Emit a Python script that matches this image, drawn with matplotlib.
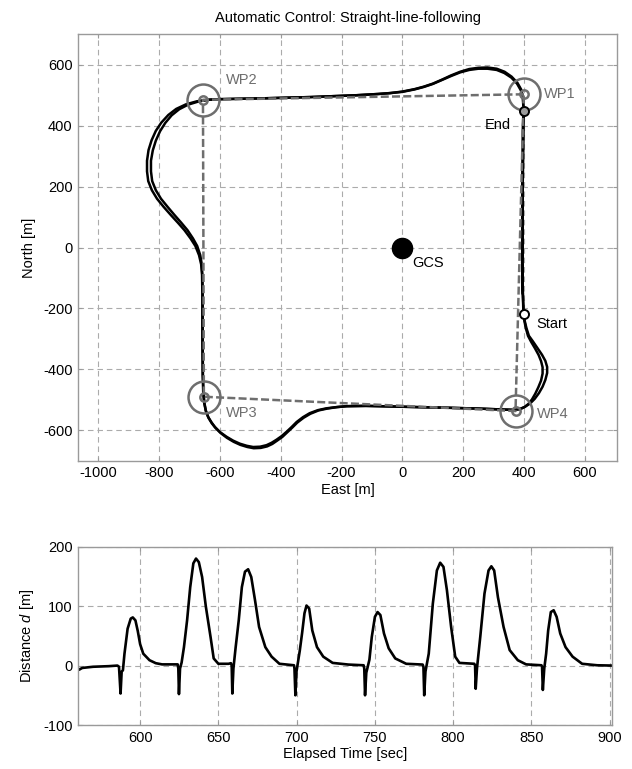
import matplotlib
matplotlib.use("Agg")
import matplotlib.pyplot as plt
import numpy as np

plt.rcParams['font.family'] = ['Liberation Sans', 'DejaVu Sans']
plt.rcParams['mathtext.fontset'] = 'custom'
plt.rcParams['mathtext.rm'] = 'Liberation Sans'
plt.rcParams['mathtext.it'] = 'Liberation Sans:italic'
plt.rcParams['axes.unicode_minus'] = False

# waypoints (east, north) [m]
wp_names = ['WP1', 'WP2', 'WP3', 'WP4']
wp_east = [399, -656, -653, 372]
wp_north = [503, 485, -490, -537]

# flown track, lap 1 (starting at "Start")
lap1_east = [399, 396, 394, 395, 396, 397, 398,
             396, 390, 377, 358, 335, 310, 280, 250, 220, 190, 160, 130, 100, 70, 40, 0, -40, -80,
             -150, -300, -450, -600,
             -640, -676, -712, -744, -770, -793, -811, -825, -835, -840, -840, -836, -824, -807,
             -785, -762, -739, -717, -697, -681, -669, -662, -659, -658, -658, -657, -655,
             -652, -647, -639, -628, -617, -600, -579, -557, -535, -512, -491, -468, -447, -430,
             -414, -397, -381, -364, -348, -327, -305, -278, -250, -217, -184, -120, -74, 50, 145,
             255, 331, 365,
             387, 403, 420, 435, 449, 461, 470, 476, 476, 470, 459, 444, 429, 416, 408, 402, 399]
lap1_north = [-218, -150, -50, 100, 250, 400, 460,
              490, 515, 538, 558, 573, 583, 587, 587, 583, 575, 563, 550, 537, 527, 519, 511, 507, 504,
              500, 494, 490, 487,
              485, 480, 470, 455, 435, 410, 383, 352, 320, 285, 250, 218, 188, 160,
              133, 107, 82, 57, 30, 5, -25, -55, -90, -150, -300, -420, -480,
              -510, -535, -556, -574, -589, -606, -621, -634, -644, -651, -655, -654, -649, -641,
              -631, -619, -605, -589, -573, -557, -544, -534, -528, -524, -521, -520, -521, -524, -526,
              -529, -532, -533,
              -530, -523, -512, -497, -478, -457, -435, -412, -392, -372, -352, -330, -308, -290, -265, -240, -218]

# lap 2 (ending at "End")
lap2_east = [396, 394, 395, 396, 397, 398,
             397, 391, 378, 359, 336, 310, 280, 250, 220, 190, 160, 130, 100, 70, 40, 0, -40, -80,
             -150, -300, -450, -600,
             -640, -672, -705, -734, -759, -780, -797, -811, -821, -827, -827, -823, -811, -794,
             -772, -750, -728, -707, -689, -675, -665, -660, -658, -657, -657, -656, -654,
             -651, -646, -638, -627, -615, -598, -577, -555, -533, -510, -489, -466, -445, -428,
             -412, -395, -379, -362, -346, -325, -303, -276, -248, -215, -182, -120, -74, 50, 145,
             255, 331, 365,
             385, 400, 414, 426, 437, 447, 456, 461, 461, 456, 448, 436, 423, 413, 406, 401, 398,
             396, 394, 395, 396, 397, 399]
lap2_north = [-150, -50, 100, 250, 400, 460,
              492, 518, 541, 561, 577, 587, 591, 590, 586, 577, 565, 551, 538, 528, 520, 512, 507, 504,
              500, 494, 490, 487,
              485, 479, 469, 454, 434, 409, 382, 351, 319, 285, 250, 218, 188, 160,
              133, 107, 82, 57, 30, 5, -25, -55, -90, -150, -300, -420, -480,
              -512, -538, -559, -577, -592, -609, -625, -638, -648, -655, -659, -658, -653, -645,
              -634, -622, -607, -591, -575, -559, -546, -535, -529, -524, -521, -520, -521, -524, -526,
              -529, -532, -533,
              -531, -525, -514, -499, -480, -459, -437, -414, -393, -373, -353, -331, -309, -290, -265, -240, -218,
              -150, -50, 100, 250, 400, 449]

start_pt = (399, -218)
end_pt = (399, 449)

# cross-track distance vs time
time_s = [559.5, 561, 563, 570, 580, 585.5, 586.5, 587.5, 588.2, 589, 590, 592, 594, 595.3, 597, 598.5,
          600, 602, 606, 610, 614, 624,
          624.4, 624.8, 625.5, 626.5, 628, 630, 632, 634, 635.7, 637.5, 639.6, 642, 645, 647, 650, 656.5,
          658, 658.5, 658.9, 659.6, 661, 663, 665, 667, 669, 671, 673.4, 676, 680, 684, 689, 698.3,
          698.6, 699.2, 699.9, 702, 703.5, 705, 706.3, 708, 710, 713, 717, 723, 733, 742.8,
          743.2, 743.7, 744.5, 746.5, 748, 750, 751.7, 753.5, 755.8, 758.8, 763, 770, 780.5,
          781, 781.5, 782.3, 784.4, 787, 789.6, 791.7, 793.8, 796, 798.7, 801.3, 804, 813.5,
          814, 814.4, 815.2, 817.3, 820, 822.6, 824.4, 826.2, 828.6, 832.2, 836.1, 841.3, 846.6, 856.4,
          856.8, 857.3, 858.2, 859.4, 860.7, 862.4, 864.2, 866.1, 868.4, 871.8, 876.3, 882.4, 892, 901.5]
dist_m = [-2, -7, -4, -2, -1, 0, -2, -47, -10, -8, 20, 62, 79, 81, 76, 58,
          36, 20, 9, 4, 2, 2,
          -5, -48, -5, 5, 31, 76, 132, 172, 180, 174, 149, 99, 48, 12, 3, 3,
          4, 0, -47, -5, 30, 76, 132, 158, 162, 149, 110, 65, 31, 15, 3, 0.5,
          -5, -50, -10, 25, 55, 88, 101, 96, 59, 31, 15, 4.5, 1.7, 0.5,
          -5, -50, -12, 10, 48, 82, 90, 85, 54, 29, 12, 3, 1.7,
          -2, -50, -10, 20, 104, 160, 173, 166, 127, 65, 15, 4.5, 3,
          0, -39, -5, 48, 121, 160, 167, 160, 115, 65, 26, 9, 2, 0.5,
          -2, -41, -5, 20, 59, 90, 93, 82, 54, 31, 15, 3, 0.5, 0]

grid_kw = dict(color='#ababab', linestyle=(0, (5, 3.5)), linewidth=0.8)
wp_color = '#6e6e6e'

fig = plt.figure(figsize=(6.32, 7.69), dpi=100)

# ---- top: ground track ----
ax = fig.add_axes([0.1239, 0.4009, 0.852, 0.5545])
ax.plot(lap1_east, lap1_north, color='black', linewidth=1.8, solid_joinstyle='round', zorder=3)
ax.plot(lap2_east, lap2_north, color='black', linewidth=1.8, solid_joinstyle='round', zorder=3)

route_e = wp_east + [wp_east[0]]
route_n = wp_north + [wp_north[0]]
ax.plot(route_e, route_n, color=wp_color, linewidth=1.8, linestyle=(0, (3.2, 1.3)), zorder=4)
ax.plot(wp_east, wp_north, 'o', markersize=23, markerfacecolor='none',
        markeredgecolor=wp_color, markeredgewidth=1.8, linestyle='none', zorder=5)
ax.plot(wp_east, wp_north, 'o', markersize=6, markerfacecolor='none',
        markeredgecolor=wp_color, markeredgewidth=1.8, linestyle='none', zorder=5)

ax.plot(0, 0, 'o', color='black', markersize=14.5, zorder=5)
ax.plot(*start_pt, 'o', markersize=6.5, markerfacecolor='white', markeredgecolor='black',
        markeredgewidth=1.4, zorder=6)
ax.plot(*end_pt, 'o', markersize=6.5, markerfacecolor='#9a9a9a', markeredgecolor='black',
        markeredgewidth=1.4, zorder=6)

lbl_kw = dict(fontsize=10.5, va='center')
ax.text(465, 504, 'WP1', color=wp_color, ha='left', **lbl_kw)
ax.text(-579, 551, 'WP2', color=wp_color, ha='left', **lbl_kw)
ax.text(-579, -543, 'WP3', color=wp_color, ha='left', **lbl_kw)
ax.text(441, -546, 'WP4', color=wp_color, ha='left', **lbl_kw)
ax.text(356, 403, 'End', color='black', ha='right', **lbl_kw)
ax.text(440, -250, 'Start', color='black', ha='left', **lbl_kw)
ax.text(32, -50, 'GCS', color='black', ha='left', **lbl_kw)

ax.set_xlim(-1066, 705)
ax.set_ylim(-700, 700)
ax.set_xticks(np.arange(-1000, 601, 200))
ax.set_yticks(np.arange(-600, 601, 200))
ax.grid(True, **grid_kw)
ax.set_axisbelow(True)
ax.set_xlabel('East [m]', fontsize=10.5, labelpad=2)
ax.set_ylabel('North [m]', fontsize=10.5, labelpad=5)
ax.set_title('Automatic Control: Straight-line-following', fontsize=10.5, pad=9)

# ---- bottom: cross-track distance ----
bx = fig.add_axes([0.1239, 0.0572, 0.8445, 0.2319])
bx.plot(time_s, dist_m, color='black', linewidth=1.9, solid_joinstyle='round')
bx.set_xlim(560.5, 901.5)
bx.set_ylim(-100, 200)
bx.set_xticks(np.arange(600, 901, 50))
bx.set_yticks([-100, 0, 100, 200])
bx.grid(True, **grid_kw)
bx.set_axisbelow(True)
bx.set_xlabel('Elapsed Time [sec]', fontsize=10.5, labelpad=2)
bx.set_ylabel('Distance $d$ [m]', fontsize=10.5, labelpad=5)

for a in (ax, bx):
    for sp in a.spines.values():
        sp.set_color('#9a9a9a')
        sp.set_linewidth(1.0)
    a.tick_params(direction='in', length=3, color='#9a9a9a', labelsize=10.5,
                  top=True, right=True, pad=4)

fig.savefig('out.png', dpi=100)
